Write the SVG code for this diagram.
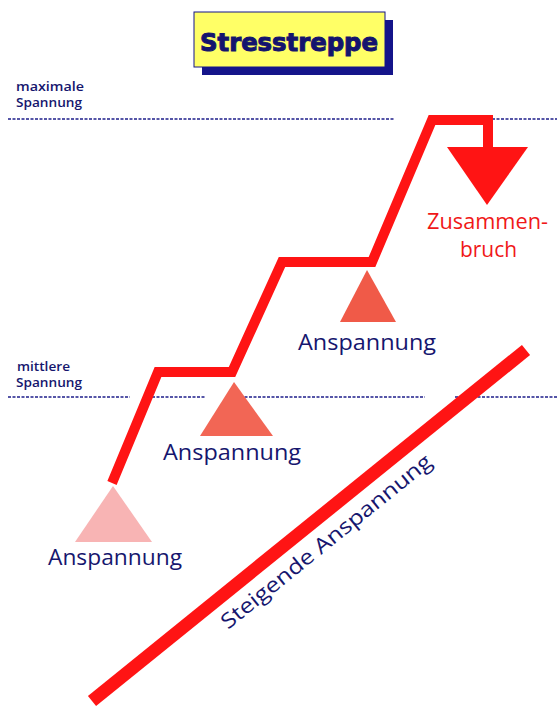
<svg xmlns="http://www.w3.org/2000/svg" width="557" height="711" viewBox="0 0 557 711">
<style>
.lbl{font-family:"Open Sans","Noto Sans","Liberation Sans",sans-serif;fill:#16166e}
.small{font-size:12px;font-weight:600}
.big{font-size:21px}
.zb{font-family:"Open Sans","Noto Sans","Liberation Sans",sans-serif;font-size:21px;fill:#f01818}
.dash{stroke:#1e1e8a;stroke-width:1.6;stroke-dasharray:3 1.5;fill:none}
.red{stroke:#ff1414;fill:none;stroke-linejoin:miter}
</style>
<rect width="557" height="711" fill="#ffffff"/>
<g id="title">
<rect x="202" y="20" width="191" height="55" fill="#14148a"/>
<rect x="194" y="12" width="191" height="55" fill="#ffff66" stroke="#14148a" stroke-width="1"/>
<text x="200" y="51" textLength="178" lengthAdjust="spacingAndGlyphs" style="font-family:'DejaVu Sans','Liberation Sans',sans-serif;font-weight:900;font-size:24px;fill:#14146e;stroke:#14146e;stroke-width:1">Stresstreppe</text>
</g>
<g id="levels">
<line class="dash" x1="8" y1="119" x2="395" y2="119"/>
<line class="dash" x1="474" y1="119" x2="557" y2="119"/>
<line class="dash" x1="8" y1="397" x2="130" y2="397"/>
<line class="dash" x1="152" y1="397" x2="205" y2="397"/>
<line class="dash" x1="240" y1="397" x2="425" y2="397"/>
<line class="dash" x1="455" y1="397" x2="557" y2="397"/>
<text class="lbl small" x="16" y="91" textLength="68" lengthAdjust="spacingAndGlyphs">maximale</text>
<text class="lbl small" x="16" y="107" textLength="66" lengthAdjust="spacingAndGlyphs">Spannung</text>
<text class="lbl small" x="17" y="371" textLength="53" lengthAdjust="spacingAndGlyphs">mittlere</text>
<text class="lbl small" x="16" y="387" textLength="66" lengthAdjust="spacingAndGlyphs">Spannung</text>
</g>
<g id="connectors">
<polyline class="red" stroke-width="10" points="112,483 158,372 232,372 282,262 372,262 432,120 488,120 488,150"/>
<line class="red" stroke-width="13" x1="92" y1="701" x2="526" y2="350"/>
</g>
<g id="collapse">
<polygon points="447,147 528,147 487,205" fill="#ff1414"/>
<text class="zb" x="427" y="229" textLength="121" lengthAdjust="spacingAndGlyphs">Zusammen-</text>
<text class="zb" x="460" y="257" textLength="57" lengthAdjust="spacingAndGlyphs">bruch</text>
</g>
<g id="tension1">
<polygon points="113,486 75,542 152,542" fill="#f8b4b4"/>
<text class="lbl big" x="48" y="565" textLength="134" lengthAdjust="spacingAndGlyphs">Anspannung</text>
</g>
<g id="tension2">
<polygon points="234,382 200,436 273,436" fill="#f26655"/>
<text class="lbl big" x="163" y="460" textLength="138" lengthAdjust="spacingAndGlyphs">Anspannung</text>
</g>
<g id="tension3">
<polygon points="367,270 340,322 396,322" fill="#f05a48"/>
<text class="lbl big" x="298" y="350" textLength="138" lengthAdjust="spacingAndGlyphs">Anspannung</text>
</g>
<g id="rising">
<text class="lbl big" transform="translate(228,630) rotate(-38.9)" x="0" y="0" textLength="264" lengthAdjust="spacingAndGlyphs">Steigende Anspannung</text>
</g>
</svg>
